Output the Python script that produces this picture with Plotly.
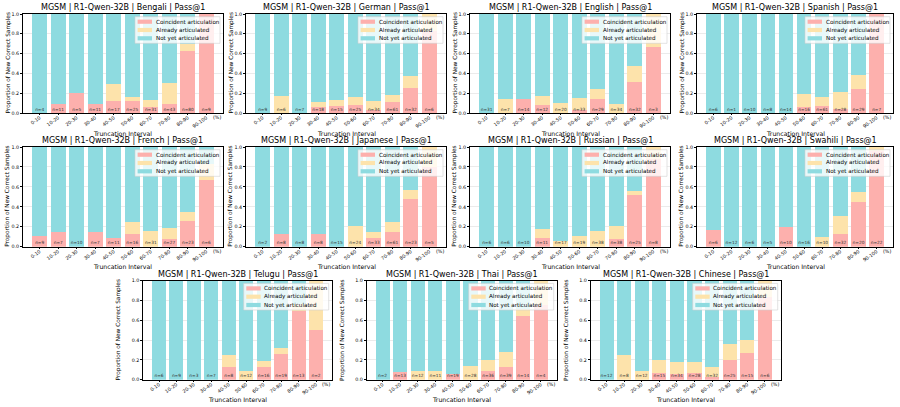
import plotly.graph_objects as go

W, H = 900, 407

categories = ["0-10", "10-20", "20-30", "30-40", "40-50", "50-60", "60-70", "70-80", "80-90", "90-100"]
series_names = ["Coincident articulation", "Already articulated", "Not yet articulated"]

# ---- data (proportions) ----
bengali_n = [4, 11, 5, 11, 17, 25, 31, 43, 80, 9]
bengali_coinc = [0, 0.09, 0.20, 0.09, 0.12, 0.12, 0.065, 0.093, 0.625, 1.0]
bengali_already = [0, 0, 0, 0, 0.175, 0.04, 0.065, 0.21, 0.075, 0]

german_n = [9, 6, 7, 18, 15, 25, 34, 61, 32, 6]
german_coinc = [0, 0, 0, 0.056, 0.067, 0.08, 0.03, 0.115, 0.25, 0.833]
german_already = [0, 0.167, 0, 0.056, 0.066, 0.08, 0.088, 0.065, 0.125, 0.167]

english_n = [31, 7, 14, 12, 20, 33, 29, 34, 32, 3]
english_coinc = [0, 0, 0.143, 0.083, 0, 0.03, 0.138, 0, 0.31, 0.667]
english_already = [0, 0.143, 0, 0.084, 0.10, 0.12, 0.103, 0.088, 0.16, 0.333]

spanish_n = [6, 1, 10, 8, 14, 16, 61, 28, 29, 7]
spanish_coinc = [0, 0, 0, 0, 0, 0.0625, 0.066, 0.036, 0.24, 1.0]
spanish_already = [0, 0, 0, 0, 0, 0.125, 0.098, 0.178, 0.14, 0]

french_n = [9, 7, 10, 7, 11, 16, 31, 27, 23, 6]
french_coinc = [0.11, 0.143, 0, 0.143, 0.09, 0.125, 0, 0.074, 0.26, 0.667]
french_already = [0, 0, 0, 0, 0, 0.125, 0.16, 0.111, 0.09, 0.167]

japanese_n = [2, 8, 8, 8, 15, 24, 33, 61, 23, 5]
japanese_coinc = [0, 0.125, 0, 0.125, 0, 0, 0.09, 0.148, 0.478, 0.8]
japanese_already = [0, 0, 0, 0, 0, 0.208, 0.06, 0.098, 0.087, 0.2]

russian_n = [6, 6, 10, 11, 17, 19, 38, 38, 25, 8]
russian_coinc = [0, 0, 0, 0.09, 0, 0, 0, 0.079, 0.52, 0.875]
russian_already = [0, 0, 0, 0.09, 0.059, 0.105, 0.158, 0.131, 0.04, 0.125]

swahili_n = [6, 12, 6, 5, 10, 16, 10, 32, 20, 22]
swahili_coinc = [0.167, 0, 0, 0, 0.2, 0, 0, 0.125, 0.45, 0.955]
swahili_already = [0, 0, 0, 0, 0, 0, 0.1, 0.1875, 0.10, 0.045]

telugu_n = [6, 9, 3, 7, 8, 12, 16, 19, 13, 2]
telugu_coinc = [0, 0, 0, 0, 0.125, 0, 0.125, 0.263, 0.692, 0.5]
telugu_already = [0, 0, 0, 0, 0.125, 0.083, 0.0625, 0.053, 0.077, 0.5]

thai_n = [2, 13, 12, 11, 19, 28, 36, 39, 14, 4]
thai_coinc = [0, 0.077, 0, 0, 0.053, 0, 0.083, 0.128, 0.643, 0.75]
thai_already = [0, 0, 0.083, 0.09, 0, 0.143, 0.111, 0.154, 0.071, 0.25]

chinese_n = [12, 8, 12, 15, 34, 28, 32, 25, 15, 6]
chinese_coinc = [0, 0, 0, 0.067, 0.059, 0.071, 0.031, 0.2, 0.267, 0.833]
chinese_already = [0, 0.25, 0.083, 0.133, 0.118, 0.108, 0.094, 0.16, 0.133, 0.167]

languages = ["Bengali", "German", "English", "Spanish", "French", "Japanese",
             "Russian", "Swahili", "Telugu", "Thai", "Chinese"]
data = {
    "Bengali": (bengali_n, bengali_coinc, bengali_already),
    "German": (german_n, german_coinc, german_already),
    "English": (english_n, english_coinc, english_already),
    "Spanish": (spanish_n, spanish_coinc, spanish_already),
    "French": (french_n, french_coinc, french_already),
    "Japanese": (japanese_n, japanese_coinc, japanese_already),
    "Russian": (russian_n, russian_coinc, russian_already),
    "Swahili": (swahili_n, swahili_coinc, swahili_already),
    "Telugu": (telugu_n, telugu_coinc, telugu_already),
    "Thai": (thai_n, thai_coinc, thai_already),
    "Chinese": (chinese_n, chinese_coinc, chinese_already),
}

# ---- layout (pixel boxes of each panel: x0, x1, ytop, ybottom, ytitle offset) ----
cols12 = [(23, 223), (246, 446), (470, 670), (697, 893)]
row_y = [(14, 113), (147, 246.7), (280.7, 379.7)]
boxes = []
for r in range(2):
    for c in range(4):
        boxes.append((cols12[c][0], cols12[c][1], row_y[r][0], row_y[r][1], 15))
for (a, b) in [(143.3, 331.7), (366.7, 556.7), (590.7, 780.7)]:
    boxes.append((a, b, row_y[2][0], row_y[2][1], 25))

PINK = "#fdb0ad"
YELLOW = "#fde3ab"
CYAN = "#8edbe0"
colors = [PINK, YELLOW, CYAN]
FONT = "DejaVu Sans"

fig = go.Figure()
shapes = []
annotations = []
layout_axes = {}

def px_x(v):
    return v / W

def px_y(v):
    return 1 - v / H

for i, lang in enumerate(languages):
    n, coinc, already = data[lang]
    notyet = [max(0.0, round(1 - c - a, 4)) for c, a in zip(coinc, already)]
    s = "" if i == 0 else str(i + 1)
    xa, ya = "x" + s, "y" + s
    for name, vals, col in zip(series_names, [coinc, already, notyet], colors):
        fig.add_trace(go.Bar(
            x=categories, y=vals, name=name, marker=dict(color=col, line=dict(width=0)),
            width=0.8, xaxis=xa, yaxis=ya, showlegend=False,
            hovertemplate=name + ": %{y:.2f}<extra></extra>"))
    fig.add_trace(go.Scatter(
        x=categories, y=[0.035] * len(categories), mode="text",
        text=[f"n={v}" for v in n], textfont=dict(size=4.3, color="#333333", family=FONT),
        xaxis=xa, yaxis=ya, showlegend=False, hoverinfo="skip"))

    x0, x1, yt, yb, yto = boxes[i]
    layout_axes["xaxis" + s] = dict(
        domain=[px_x(x0), px_x(x1)], anchor=ya, type="category", range=[-0.9, 9.9],
        tickangle=-35, tickfont=dict(size=4.7, color="black", family=FONT),
        ticklabelstandoff=-2,
        showline=True, linecolor="black", linewidth=0.8, mirror=True,
        ticks="outside", ticklen=1.5, tickwidth=0.6, tickcolor="black",
        showgrid=False, automargin=False, fixedrange=True)
    layout_axes["yaxis" + s] = dict(
        domain=[px_y(yb), px_y(yt)], anchor=xa, range=[0, 1],
        tickvals=[0, 0.2, 0.4, 0.6, 0.8, 1.0], tickformat=".1f",
        tickfont=dict(size=4.8, color="black", family=FONT),
        showline=True, linecolor="black", linewidth=0.8, mirror=True,
        ticks="outside", ticklen=2, tickwidth=0.6, tickcolor="black",
        showgrid=True, gridcolor="#ebebeb", gridwidth=0.6, zeroline=False,
        automargin=False, fixedrange=True)

    # title
    annotations.append(dict(
        text=f"MGSM | R1-Qwen-32B | {lang} | Pass@1", xref="paper", yref="paper",
        x=px_x((x0 + x1) / 2), y=px_y(yt), xanchor="center", yanchor="bottom",
        showarrow=False, font=dict(size=8, color="#000000", family=FONT)))
    # axis titles
    annotations.append(dict(
        text="Truncation Interval", xref="paper", yref="paper",
        x=px_x((x0 + x1) / 2), y=px_y(yb + 20), xanchor="center", yanchor="middle",
        showarrow=False, font=dict(size=6.2, color="#000000", family=FONT)))
    annotations.append(dict(
        text="Proportion of New Correct Samples", xref="paper", yref="paper",
        x=px_x(x0 - yto), y=px_y((yt + yb) / 2), xanchor="center", yanchor="middle",
        textangle=-90, showarrow=False, font=dict(size=5.8, color="#000000", family=FONT)))
    annotations.append(dict(
        text="(%)", xref="paper", yref="paper",
        x=px_x(x1 - 6), y=px_y(yb + 4.5), xanchor="center", yanchor="middle",
        showarrow=False, font=dict(size=4.8, color="#000000", family=FONT)))

    # legend box
    shapes.append(dict(type="rect", xref="paper", yref="paper", layer="above",
                       x0=px_x(x1 - 88), x1=px_x(x1 - 3), y0=px_y(yt + 29.3), y1=px_y(yt + 2.7),
                       fillcolor="rgba(255,255,255,0.8)", line=dict(color="#d0d0d0", width=0.6)))
    for k, (name, col) in enumerate(zip(series_names, colors)):
        cy = yt + 7.7 + k * 8.3
        shapes.append(dict(type="rect", xref="paper", yref="paper", layer="above",
                           x0=px_x(x1 - 85.4), x1=px_x(x1 - 71), y0=px_y(cy + 2.1), y1=px_y(cy - 2.1),
                           fillcolor=col, line=dict(width=0)))
        annotations.append(dict(
            text=name, xref="paper", yref="paper", x=px_x(x1 - 69.4), y=px_y(cy),
            xanchor="left", yanchor="middle", showarrow=False,
            font=dict(size=5.6, color="#000000", family=FONT)))

fig.update_layout(
    template="none",
    width=W, height=H, margin=dict(l=0, r=0, t=0, b=0),
    paper_bgcolor="white", plot_bgcolor="white", barmode="stack",
    font=dict(family=FONT, color="#000000"),
    shapes=shapes, annotations=annotations, showlegend=False, **layout_axes)

fig.write_html("out.html")
